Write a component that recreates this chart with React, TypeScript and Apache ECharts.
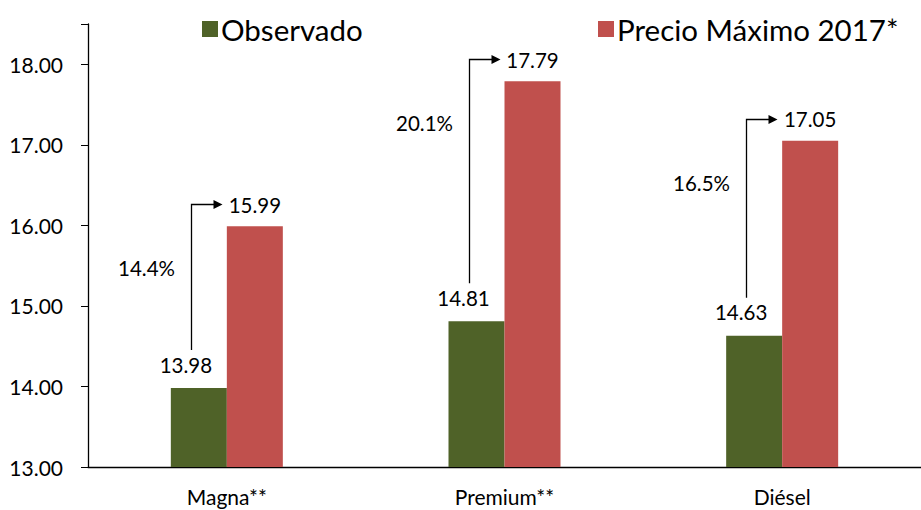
import React, { useEffect, useRef } from "react";
import * as echarts from "echarts";

const categories = ["Magna**", "Premium**", "Diésel"];
const observed = [13.98, 14.81, 14.63];
const maximum = [15.99, 17.79, 17.05];
const increase = ["14.4%", "20.1%", "16.5%"];
const seriesNames = ["Observado", "Precio Máximo 2017*"];

const FONT = "Lato, 'Liberation Sans', sans-serif";
const GREEN = "#4F6228";
const RED = "#C0504D";

export default function App() {
  const ref = useRef<HTMLDivElement>(null);
  useEffect(() => {
    if (!ref.current) return;
    const chart = echarts.init(ref.current, undefined, { renderer: "svg" });
    const arrowData = categories.map((_, i) => [i, observed[i], maximum[i], increase[i]]);
    const BW = 56;
    const legendText = { fontSize: 29.5, color: "#000", fontFamily: FONT, padding: [0, 0, 0, -2] };
    chart.setOption({
      animation: false,
      textStyle: { fontFamily: FONT },
      legend: [
        {
          data: [seriesNames[0]],
          left: 197,
          top: 9,
          itemWidth: 16,
          itemHeight: 16,
          itemGap: 0,
          textStyle: legendText,
          icon: "rect",
        },
        {
          data: [seriesNames[1]],
          left: 593,
          top: 9,
          itemWidth: 16,
          itemHeight: 16,
          itemGap: 0,
          textStyle: legendText,
          icon: "rect",
        },
      ],
      grid: { left: 88, top: 24, width: 841, height: 443, containLabel: false },
      xAxis: {
        type: "category",
        data: categories,
        axisLine: { lineStyle: { color: "#000", width: 1.3 } },
        axisTick: { show: false },
        axisLabel: { color: "#000", fontSize: 21, margin: 19, fontFamily: FONT },
      },
      yAxis: {
        type: "value",
        min: 13,
        max: 18.5,
        interval: 1,
        splitLine: { show: false },
        axisLine: { show: true, lineStyle: { color: "#000", width: 1.3 } },
        axisTick: { show: true, length: 7, lineStyle: { color: "#000" } },
        axisLabel: {
          color: "#000",
          fontSize: 21,
          margin: 25,
          fontFamily: FONT,
          formatter: (v: number) => (Math.abs(v - Math.round(v)) < 1e-6 ? v.toFixed(2) : ""),
        },
      },
      series: [
        {
          name: seriesNames[0],
          type: "bar",
          data: observed,
          barWidth: BW,
          barGap: "0%",
          itemStyle: { color: GREEN },
          label: {
            show: true,
            position: "top",
            distance: 13,
            offset: [-13, 0],
            color: "#000",
            fontSize: 20.5,
            fontFamily: FONT,
            formatter: (p: any) => p.value.toFixed(2),
          },
        },
        {
          name: seriesNames[1],
          type: "bar",
          data: maximum,
          barWidth: BW,
          itemStyle: { color: RED },
          label: {
            show: true,
            position: "top",
            distance: 11,
            color: "#000",
            fontSize: 20.5,
            fontFamily: FONT,
            formatter: (p: any) => p.value.toFixed(2),
          },
        },
        {
          type: "custom",
          data: arrowData,
          silent: true,
          z: 5,
          renderItem: (params: any, api: any) => {
            const idx = api.value(0);
            const obs = api.value(1);
            const max = api.value(2);
            const pct = increase[params.dataIndex];
            const pObs = api.coord([idx, obs]);
            const pMax = api.coord([idx, max]);
            const cx = pObs[0];
            const lx = Math.round(cx - BW / 2 - 8) + 0.5;
            const yBottom = pObs[1] - 38;
            const yTop = Math.round(pMax[1] - 22) + 0.5;
            const tipX = lx + 31;
            return {
              type: "group",
              children: [
                {
                  type: "polyline",
                  shape: { points: [[lx, yBottom], [lx, yTop], [tipX - 8, yTop]] },
                  style: { stroke: "#000", lineWidth: 1.3, fill: null },
                },
                {
                  type: "polygon",
                  shape: { points: [[tipX - 9, yTop - 4.5], [tipX, yTop], [tipX - 9, yTop + 4.5]] },
                  style: { fill: "#000" },
                },
                {
                  type: "text",
                  x: lx - 45,
                  y: pMax[1] + 42,
                  style: {
                    text: pct,
                    fontSize: 20.5,
                    fontFamily: FONT,
                    fill: "#000",
                    align: "center",
                    verticalAlign: "middle",
                  },
                },
              ],
            };
          },
        },
      ],
    });
    return () => chart.dispose();
  }, []);
  return <div ref={ref} style={{ width: 921, height: 510, position: "absolute", left: 0, top: 0 }} />;
}
